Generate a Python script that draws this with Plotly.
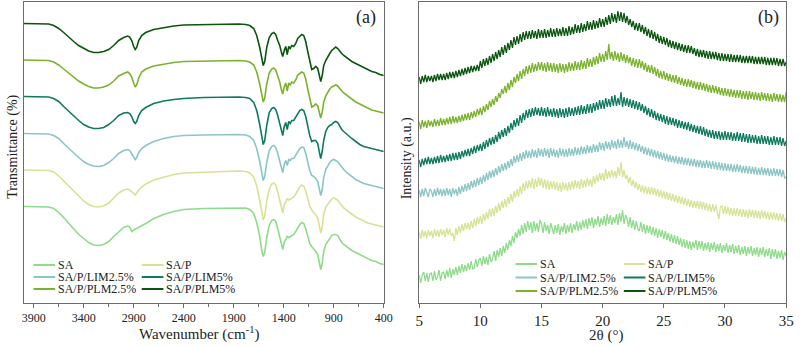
import plotly.graph_objects as go

# ---- datos ----
series = ['SA', 'SA/P', 'SA/P/LIM2.5%', 'SA/P/LIM5%', 'SA/P/PLM2.5%', 'SA/P/PLM5%']
colores = ['#8EDC8A', '#D6E396', '#8CC5C5', '#0F7A5E', '#7BB22E', '#0B560F']

# FTIR (a): número de onda y transmitancia relativa (u.a.)
wn = [4000, 3900, 3800, 3750, 3700, 3650, 3600, 3550, 3500, 3450,
      3400, 3350, 3300, 3250, 3200, 3150, 3100, 3050, 3000, 2960,
      2940, 2920, 2900, 2885, 2870, 2850, 2820, 2780, 2700, 2600,
      2500, 2400, 2200, 2000, 1850, 1780, 1740, 1700, 1670, 1640,
      1620, 1605, 1590, 1570, 1545, 1520, 1500, 1480, 1460, 1440,
      1425, 1410, 1395, 1380, 1365, 1350, 1335, 1320, 1300, 1280,
      1260, 1240, 1220, 1200, 1180, 1160, 1140, 1120, 1100, 1080,
      1060, 1045, 1030, 1015, 1000, 980, 960, 940, 920, 900,
      880, 860, 840, 820, 800, 760, 720, 680, 640, 600,
      560, 520, 480, 440, 400]

ftir_sa = [0, 0, 0, -0.5, -2, -6, -11, -17, -23, -28,
           -32, -36, -38.5, -39, -38, -35, -30, -25, -21, -19.5,
           -20.5, -25, -23, -22.5, -22, -21, -19, -17, -12, -8,
           -5, -3, -2, -1.5, -1, -1.5, -3, -7, -16, -30,
           -44, -50, -46, -31, -19, -14, -13, -15, -22, -30,
           -38, -43, -36, -32, -30, -31, -30, -29, -28, -25,
           -21, -18, -16, -17, -22, -30, -37, -40, -42, -45,
           -48, -55, -63, -57, -45, -38, -35, -33, -29, -28,
           -28, -29, -33, -36, -38, -41, -44, -46, -48, -50,
           -52, -54, -55, -57, -58]
ftir_sap = [0, 0, 0, -0.5, -2, -6, -11, -16, -22, -27,
            -31, -34.5, -36.5, -37, -36, -33, -28, -23, -20, -19,
            -20, -22, -24, -25, -23, -20, -17, -14, -10, -7,
            -4.5, -3, -2, -1.5, -1, -1.5, -3, -7, -16, -30,
            -44, -50, -46, -31, -19, -14, -13, -15, -22, -30,
            -38, -43, -35, -31, -29, -30, -29, -28, -27, -24,
            -20, -17, -15, -16, -21, -29, -36, -40, -42, -45,
            -48, -55, -63, -57, -44, -37, -34, -32, -29, -28,
            -29, -30, -33, -36, -38, -41, -44, -47, -49, -51,
            -53, -54, -55, -56, -57]
ftir_lim25 = [0, 0, 0, -0.5, -2, -5, -10, -15, -20, -24,
              -28, -31, -32.5, -33, -32, -29, -25, -20, -17, -16,
              -17, -20, -24, -26, -24, -19, -15, -12, -8, -5,
              -3, -2, -1.5, -1, -1, -1.5, -3, -7, -15, -28,
              -41, -47, -43, -29, -17, -13, -12, -14, -20, -27,
              -34, -39, -31, -27, -32, -26, -27, -25, -25, -22,
              -18, -15, -13.5, -14, -20, -29, -37, -42, -43, -45,
              -48, -55, -62, -56, -44, -36, -32, -29, -27, -26,
              -27, -28, -31, -34, -36, -40, -43, -46, -48, -50,
              -51, -52, -53, -54, -55]
ftir_lim5 = [0, 0, 0, -0.5, -2, -5, -10, -15, -20, -24,
             -28, -30.5, -32, -32, -31, -28, -24, -19, -16.5, -16,
             -17, -20, -25, -27, -25, -19, -14, -11, -7, -4.5,
             -3, -2, -1, -0.5, -0.5, -1, -2, -6, -14, -28,
             -41, -48, -44, -29, -16, -12, -11, -13, -19, -26,
             -33, -39, -30, -26, -33, -25, -27, -24, -24, -21,
             -17, -14, -13, -14, -20, -30, -39, -45, -44, -44,
             -47, -55, -62, -55, -44, -35, -31, -29, -28, -26,
             -25, -26, -30, -33, -35, -39, -42, -45, -48, -50,
             -51, -52, -53, -54, -55]
ftir_plm25 = [0, 0, 0, -0.5, -2, -5, -9, -13, -17, -21,
              -24, -26.5, -28, -28, -27, -25, -21, -16, -13.5, -12,
              -13.5, -17, -23, -27, -25, -18, -12, -9, -6, -4,
              -2.5, -1.5, -1, -0.5, -0.5, -1, -2, -5, -12, -24,
              -36, -42, -38, -24, -13, -9, -8, -10, -16, -22,
              -29, -34, -27, -23, -31, -23, -25, -22, -23, -20,
              -15, -13, -12, -13, -19, -29, -39, -47, -46, -44,
              -46, -53, -58, -52, -42, -36, -32, -29, -27, -26,
              -25, -26, -29, -31, -33, -36, -39, -42, -44, -46,
              -48, -50, -51, -52, -53]
ftir_plm5 = [0, 0, 0, -0.5, -2, -5, -9, -14, -18, -22,
             -25, -27.5, -29, -29, -28, -26, -22, -17, -14, -12.5,
             -13.5, -17, -23, -26, -24, -17, -12, -9, -6, -4,
             -2.5, -1.5, -1, -0.5, -0.5, -1, -2, -5, -12, -24,
             -36, -42, -38, -24, -14, -10, -9, -11, -17, -22,
             -28, -33, -27, -23, -31, -23, -25, -22, -23, -20,
             -15, -13, -11, -12, -18, -28, -38, -46, -45, -43,
             -45, -52, -58, -52, -42, -37, -33, -30, -27, -25,
             -23.5, -25, -28, -30, -32, -35, -38, -40, -42, -44,
             -46, -48, -49, -51, -52]

# DRX (b): 2θ de 5 a 35 cada 0.125° (una fila = 1°)
two_theta = [5 + 0.125 * i for i in range(241)]

xrd_sa = [3, -5, 3, 6, -3, 5, -4, 4,
          5, -3, 7, -2, 1, 8, -3, 5,
          6, -1, 8, 1, 10, 0, 9, 3,
          11, 3, 12, 5, 14, 6, 13, 7,
          15, 8, 17, 9, 10, 19, 11, 18,
          20, 12, 22, 14, 21, 13, 24, 16,
          19, 27, 17, 28, 21, 30, 22, 32,
          25, 35, 28, 38, 32, 42, 35, 46,
          40, 49, 42, 53, 44, 55, 46, 57,
          48, 56, 45, 57, 47, 55, 46, 58,
          54, 45, 56, 47, 53, 44, 55, 48,
          44, 53, 45, 54, 43, 52, 46, 55,
          44, 53, 46, 55, 45, 54, 48, 57,
          47, 56, 48, 58, 50, 59, 49, 60,
          52, 61, 50, 59, 53, 62, 51, 60,
          53, 62, 52, 64, 54, 63, 53, 61,
          55, 64, 53, 65, 56, 68, 54, 63,
          59, 51, 61, 50, 58, 48, 57, 49,
          47, 56, 46, 54, 44, 53, 45, 52,
          43, 51, 42, 50, 40, 49, 41, 48,
          39, 47, 38, 45, 36, 44, 35, 43,
          34, 42, 33, 40, 31, 39, 30, 38,
          29, 37, 28, 36, 30, 38, 28, 37,
          29, 37, 27, 35, 28, 36, 26, 35,
          28, 36, 26, 34, 27, 35, 25, 33,
          27, 35, 25, 33, 26, 34, 24, 32,
          25, 33, 23, 31, 24, 32, 22, 31,
          24, 32, 22, 30, 23, 31, 21, 30,
          23, 31, 21, 29, 22, 30, 19, 29,
          21, 29, 19, 27, 20, 28, 18, 26,
          22]
xrd_sap = [3, -4, 5, -2, 4, -3, 5, -1,
           4, -3, 6, -1, 5, -2, 6, 0,
           5, -2, 7, 0, 6, -1, 2, -6,
           7, 0, 9, 2, 11, 4, 12, 6,
           12, 5, 14, 7, 16, 9, 18, 11,
           19, 11, 21, 14, 23, 16, 26, 18,
           27, 19, 29, 22, 32, 24, 34, 27,
           36, 28, 38, 31, 41, 33, 44, 37,
           46, 38, 49, 41, 52, 44, 54, 46,
           55, 47, 57, 46, 56, 48, 58, 49,
           57, 47, 56, 46, 55, 45, 54, 46,
           54, 45, 53, 44, 52, 43, 53, 45,
           52, 44, 53, 45, 54, 46, 55, 47,
           54, 46, 56, 47, 55, 48, 57, 49,
           56, 48, 59, 51, 60, 53, 62, 55,
           62, 54, 66, 56, 64, 57, 65, 58,
           64, 57, 68, 59, 73, 58, 65, 56,
           60, 52, 58, 49, 55, 47, 53, 45,
           51, 43, 50, 42, 49, 41, 48, 40,
           48, 40, 47, 39, 46, 38, 45, 37,
           44, 36, 43, 35, 42, 34, 41, 33,
           40, 32, 39, 31, 38, 30, 37, 29,
           36, 28, 35, 27, 34, 27, 34, 26,
           34, 26, 33, 25, 32, 24, 31, 23,
           31, 23, 30, 22, 16, 28, 29, 21,
           29, 21, 28, 20, 27, 19, 27, 19,
           27, 19, 26, 18, 26, 18, 25, 17,
           26, 18, 25, 17, 25, 17, 24, 16,
           25, 17, 24, 16, 23, 15, 23, 15,
           23, 15, 22, 14, 22, 14, 21, 13,
           17]
xrd_lim25 = [3, -4, 4, -3, 5, -1, -4, 4,
             2, -4, 4, -3, 5, -2, 4, -3,
             4, -3, 5, -2, 4, -4, 5, -1,
             4, -3, 6, -1, 7, 1, 9, 2,
             10, 3, 12, 5, 13, 6, 15, 8,
             16, 9, 18, 11, 20, 13, 22, 15,
             23, 16, 25, 18, 27, 20, 29, 22,
             30, 23, 32, 25, 34, 27, 37, 30,
             38, 31, 40, 32, 41, 34, 43, 35,
             42, 35, 44, 36, 43, 35, 45, 37,
             44, 36, 45, 37, 44, 35, 45, 37,
             44, 36, 43, 35, 45, 37, 44, 36,
             44, 36, 45, 37, 44, 37, 46, 38,
             45, 38, 47, 39, 46, 39, 48, 40,
             47, 40, 49, 41, 48, 41, 51, 43,
             50, 42, 52, 44, 51, 43, 53, 45,
             52, 44, 54, 45, 53, 45, 56, 46,
             52, 44, 53, 44, 51, 43, 50, 42,
             49, 41, 47, 39, 46, 38, 45, 37,
             44, 36, 43, 35, 42, 34, 41, 33,
             40, 32, 39, 31, 38, 31, 37, 30,
             37, 29, 36, 29, 36, 28, 35, 28,
             35, 27, 34, 27, 34, 26, 33, 26,
             33, 25, 32, 25, 33, 25, 32, 24,
             32, 24, 31, 23, 31, 23, 30, 22,
             30, 22, 29, 22, 29, 21, 28, 21,
             29, 21, 28, 20, 27, 20, 27, 19,
             27, 19, 26, 19, 26, 18, 25, 18,
             26, 18, 25, 18, 25, 17, 24, 17,
             25, 17, 24, 17, 24, 16, 23, 15,
             16]
xrd_lim5 = [3, -4, 4, -2, 5, -1, 6, -1,
            5, -1, 6, 0, 7, 0, 8, 1,
            7, 1, 8, 2, 9, 2, 10, 3,
            10, 3, 11, 4, 12, 6, 13, 7,
            14, 7, 15, 9, 17, 10, 18, 12,
            19, 12, 21, 14, 23, 16, 25, 18,
            26, 19, 28, 21, 31, 24, 33, 26,
            35, 27, 37, 30, 40, 33, 43, 36,
            45, 37, 48, 40, 50, 43, 53, 45,
            54, 46, 55, 47, 56, 48, 55, 47,
            56, 47, 55, 46, 56, 47, 54, 46,
            55, 46, 54, 45, 55, 46, 54, 45,
            55, 46, 56, 47, 55, 47, 56, 48,
            57, 48, 58, 49, 57, 49, 59, 50,
            59, 50, 60, 52, 61, 53, 63, 54,
            63, 54, 65, 56, 64, 56, 67, 57,
            68, 57, 65, 58, 71, 56, 66, 57,
            65, 56, 64, 55, 63, 54, 62, 53,
            61, 52, 59, 50, 57, 48, 55, 46,
            54, 45, 52, 43, 50, 42, 49, 41,
            48, 39, 47, 38, 46, 38, 45, 37,
            44, 35, 43, 35, 42, 34, 41, 33,
            41, 32, 39, 31, 38, 30, 37, 29,
            37, 28, 36, 27, 34, 26, 33, 25,
            33, 24, 32, 24, 32, 23, 31, 23,
            32, 23, 31, 23, 31, 22, 30, 22,
            31, 22, 30, 21, 30, 21, 29, 20,
            29, 20, 28, 20, 28, 19, 27, 19,
            28, 19, 27, 19, 27, 18, 26, 18,
            27, 18, 26, 18, 26, 17, 25, 17,
            22]
xrd_plm25 = [3, -4, 5, -2, 4, -3, 5, -1,
             4, -2, 6, -1, 5, -1, 7, 0,
             6, 0, 7, 1, 8, 1, 9, 2,
             8, 2, 9, 3, 10, 4, 11, 5,
             12, 5, 13, 7, 14, 8, 16, 10,
             17, 10, 19, 13, 21, 15, 24, 18,
             26, 20, 29, 23, 32, 27, 36, 31,
             39, 32, 42, 35, 45, 38, 48, 42,
             51, 44, 54, 46, 56, 49, 59, 51,
             60, 52, 62, 53, 61, 54, 63, 55,
             63, 54, 62, 53, 63, 54, 62, 53,
             62, 53, 61, 52, 62, 53, 61, 52,
             61, 53, 63, 54, 62, 54, 64, 55,
             63, 55, 65, 56, 64, 56, 67, 58,
             66, 58, 68, 60, 69, 61, 72, 63,
             71, 63, 74, 65, 81, 66, 73, 64,
             74, 65, 72, 63, 73, 64, 71, 62,
             70, 62, 68, 59, 67, 58, 66, 57,
             66, 57, 64, 55, 62, 53, 60, 52,
             60, 51, 58, 49, 56, 47, 54, 46,
             54, 45, 52, 44, 51, 43, 50, 42,
             50, 41, 48, 40, 47, 39, 46, 38,
             46, 38, 45, 37, 44, 36, 43, 35,
             43, 35, 42, 34, 41, 33, 40, 32,
             40, 32, 39, 31, 38, 30, 37, 29,
             37, 29, 36, 28, 36, 28, 35, 27,
             35, 27, 35, 26, 34, 26, 34, 25,
             34, 26, 33, 25, 33, 25, 32, 24,
             33, 25, 32, 24, 32, 24, 31, 23,
             32, 24, 31, 23, 31, 23, 30, 23,
             33]
xrd_plm5 = [3, -4, 4, -2, 5, -2, 4, -1,
            4, -2, 5, -1, 6, 0, 6, 0,
            6, 0, 7, 1, 8, 2, 8, 2,
            9, 3, 10, 4, 11, 5, 12, 6,
            13, 7, 14, 8, 14, 9, 15, 9,
            19, 12, 21, 14, 22, 15, 24, 17,
            26, 19, 28, 21, 30, 23, 33, 25,
            35, 27, 37, 30, 40, 32, 43, 35,
            44, 36, 46, 38, 48, 40, 49, 41,
            49, 41, 50, 42, 49, 41, 51, 42,
            50, 42, 51, 42, 50, 43, 52, 43,
            51, 43, 52, 44, 51, 44, 53, 44,
            52, 44, 54, 45, 53, 46, 56, 47,
            55, 47, 57, 48, 56, 49, 59, 50,
            58, 50, 60, 51, 59, 52, 62, 53,
            61, 53, 63, 55, 65, 56, 67, 58,
            66, 57, 69, 59, 68, 58, 67, 57,
            64, 55, 61, 53, 59, 50, 57, 49,
            57, 48, 55, 46, 53, 44, 51, 42,
            50, 41, 48, 39, 46, 37, 44, 36,
            43, 35, 42, 33, 40, 32, 39, 31,
            38, 30, 37, 29, 36, 28, 35, 27,
            35, 27, 34, 26, 32, 24, 31, 23,
            30, 23, 30, 22, 29, 21, 29, 21,
            28, 21, 28, 20, 27, 19, 27, 19,
            26, 19, 26, 18, 26, 18, 25, 18,
            25, 18, 25, 17, 24, 17, 24, 17,
            24, 17, 24, 16, 23, 16, 23, 16,
            23, 16, 23, 15, 22, 15, 22, 15,
            22, 15, 22, 14, 21, 14, 21, 14,
            18]

ftir = [ftir_sa, ftir_sap, ftir_lim25, ftir_lim5, ftir_plm25, ftir_plm5]
xrd = [xrd_sa, xrd_sap, xrd_lim25, xrd_lim5, xrd_plm25, xrd_plm5]

# desplazamientos verticales para apilar las curvas
ftir_offsets = [96, 132.5, 169, 206, 242.5, 279]
xrd_offsets = [24.5, 67.5, 109.5, 139.5, 177.5, 222.5]

W, H = 803, 346
FONT = 'Liberation Serif'


def px(x, y):
    return x / W, 1 - y / H


fig = go.Figure()

for nombre, color, ys, off in zip(series, colores, ftir, ftir_offsets):
    fig.add_trace(go.Scatter(x=wn, y=[v + off for v in ys], mode='lines', name=nombre,
                             line=dict(color=color, width=1.6), showlegend=False,
                             xaxis='x', yaxis='y'))

for nombre, color, ys, off in zip(series, colores, xrd, xrd_offsets):
    fig.add_trace(go.Scatter(x=two_theta, y=[v + off for v in ys], mode='lines', name=nombre,
                             line=dict(color=color, width=1.3), showlegend=False,
                             xaxis='x2', yaxis='y2'))

ydom = [1 - 302.5 / H, 1 - 2 / H]
eje = dict(showline=True, mirror=True, linecolor='#6b6b6b', linewidth=1,
           showgrid=False, zeroline=False)

fig.update_layout(
    width=W, height=H,
    margin=dict(l=0, r=0, t=0, b=0),
    paper_bgcolor='white', plot_bgcolor='white',
    font=dict(family=FONT, color='#222', size=12),
    xaxis=dict(domain=[20 / W, 386 / W], range=[4000, 400], tick0=400, dtick=500,
               ticks='outside', ticklen=4, tickcolor='#6b6b6b',
               minor=dict(ticks='outside', ticklen=3, dtick=250, tick0=400, tickcolor='#6b6b6b'),
               tickfont=dict(size=12, family=FONT), **eje),
    yaxis=dict(domain=ydom, range=[0, 300.5], showticklabels=False, ticks='', **eje),
    xaxis2=dict(domain=[422 / W, 795 / W], range=[5, 35], dtick=5, anchor='y2',
                ticks='outside', ticklen=4, tickcolor='#6b6b6b',
                tickfont=dict(size=15, family=FONT), **eje),
    yaxis2=dict(domain=ydom, range=[0, 300.5], anchor='x2',
                showticklabels=False, ticks='', **eje),
)

anots = []
shapes = []

# títulos de ejes y etiquetas de panel
for texto, x, y, ang, size in [
    ('Wavenumber (cm<sup>-1</sup>)', 198, 333, 0, 15),
    ('2θ (°)', 612, 335, 0, 15),
    ('Transmittance (%)', 9, 147, -90, 14),
    ('Intensity (a.u.)', 410, 158, -90, 14),
    ('(a)', 368, 17, 0, 18),
    ('(b)', 777, 17, 0, 18),
]:
    xp, yp = px(x, y)
    anots.append(dict(text=texto, x=xp, y=yp, xref='paper', yref='paper', showarrow=False,
                      textangle=ang, xanchor='center', yanchor='middle',
                      font=dict(size=size, family=FONT, color='#222')))

# leyendas (dos columnas, tres filas) en cada panel
for col_x, filas_y in [((30, 140), (265, 277, 289)), ((520, 630), (264, 277.5, 291))]:
    for i, (nombre, color) in enumerate(zip(series, colores)):
        x0 = col_x[i % 2]
        y = filas_y[i // 2]
        a, b = px(x0, y)
        c, _ = px(x0 + 22, y)
        shapes.append(dict(type='line', xref='paper', yref='paper', x0=a, x1=c, y0=b, y1=b,
                           line=dict(color=color, width=2)))
        t, _ = px(x0 + 23, y)
        anots.append(dict(text=nombre, x=t, y=b, xref='paper', yref='paper', showarrow=False,
                          xanchor='left', yanchor='middle',
                          font=dict(size=12, family=FONT, color='#222')))

fig.update_layout(annotations=anots, shapes=shapes)

fig.write_html("out.html", config={'displayModeBar': False},
               post_script="document.body.style.margin='0';")
